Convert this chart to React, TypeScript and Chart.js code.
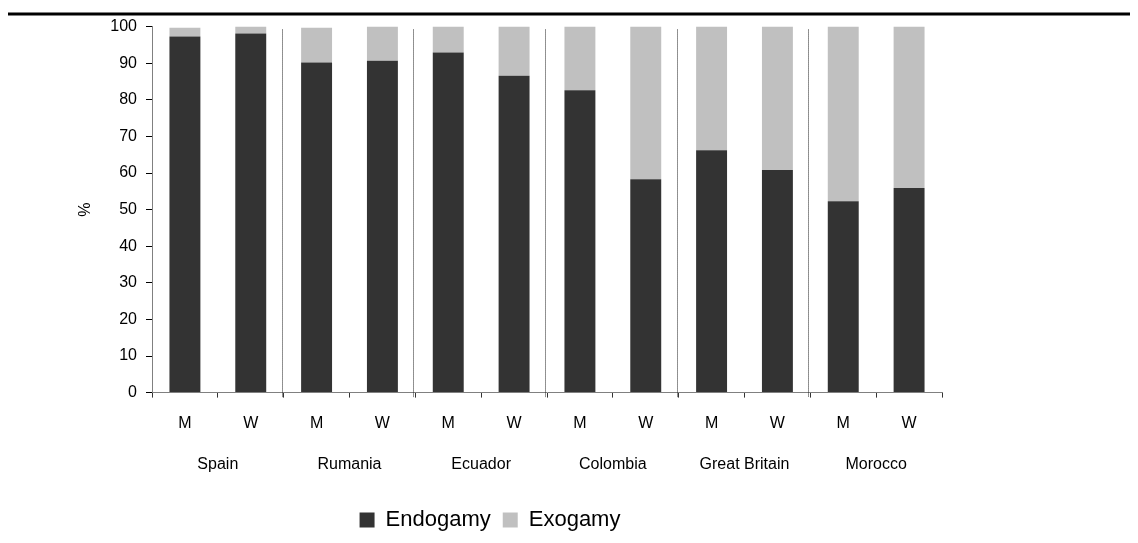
import React, { useEffect, useRef } from "react";
import { Chart, registerables } from "chart.js";

Chart.register(...registerables);

const sexLabels = ["M", "W", "M", "W", "M", "W", "M", "W", "M", "W", "M", "W"];
const countries = ["Spain", "Rumania", "Ecuador", "Colombia", "Great Britain", "Morocco"];
const endogamy = [97.3, 98.1, 90.2, 90.7, 92.9, 86.6, 82.6, 58.3, 66.2, 60.8, 52.3, 55.9];
const exogamy = [2.4, 1.9, 9.5, 9.3, 7.1, 13.4, 17.4, 41.7, 33.8, 39.2, 47.7, 44.1];
const yTicks = [0, 10, 20, 30, 40, 50, 60, 70, 80, 90, 100];

const FONT = "'Liberation Sans', Arial, sans-serif";

const decorPlugin = {
  id: "decor",
  beforeDraw(chart: any) {
    const ctx = chart.ctx;
    ctx.save();
    ctx.strokeStyle = "#000";
    ctx.lineWidth = 3;
    ctx.beginPath();
    ctx.moveTo(0, 6);
    ctx.lineTo(chart.width, 6);
    ctx.stroke();
    ctx.restore();
  },
  afterDatasetsDraw(chart: any) {
    const ctx = chart.ctx;
    const x = chart.scales.x;
    const y = chart.scales.y;
    ctx.save();
    ctx.strokeStyle = "#222";
    ctx.lineWidth = 1;
    ctx.setLineDash([1, 1]);
    for (let i = 2; i < sexLabels.length; i += 2) {
      const px = Math.round((x.getPixelForValue(i - 1) + x.getPixelForValue(i)) / 2) - 1.5;
      ctx.beginPath();
      ctx.moveTo(px, y.getPixelForValue(99.2));
      ctx.lineTo(px, y.bottom + 5);
      ctx.stroke();
    }
    ctx.restore();
  },
};

export default function App() {
  const ref = useRef<HTMLCanvasElement>(null);
  useEffect(() => {
    if (!ref.current) return;
    const chart = new Chart(ref.current, {
      type: "bar",
      data: {
        labels: sexLabels,
        datasets: [
          {
            label: "Endogamy",
            data: endogamy,
            backgroundColor: "#333333",
            borderWidth: 0,
            barPercentage: 0.47,
            categoryPercentage: 1,
          },
          {
            label: "Exogamy",
            data: exogamy,
            backgroundColor: "#c0c0c0",
            borderWidth: 0,
            barPercentage: 0.47,
            categoryPercentage: 1,
          },
        ],
      },
      options: {
        animation: false,
        responsive: true,
        maintainAspectRatio: false,
        layout: { padding: { left: 30, right: 196, top: 18, bottom: 2 } },
        plugins: {
          tooltip: { enabled: false },
          legend: {
            position: "bottom",
            labels: {
              color: "#000",
              font: { family: FONT, size: 22 },
              boxWidth: 15,
              boxHeight: 15,
              padding: 12,
            },
          },
        },
        scales: {
          x: {
            stacked: true,
            grid: {
              display: true,
              drawOnChartArea: false,
              drawTicks: true,
              tickLength: 5,
              color: "#333",
              offset: true,
            },
            border: { display: true, color: "#808080", width: 1 },
            ticks: {
              color: "#000",
              font: { family: FONT, size: 16 },
              padding: 16,
              maxRotation: 0,
              autoSkip: false,
            },
          },
          x2: {
            type: "category",
            labels: countries,
            position: "bottom",
            offset: true,
            grid: { display: false, drawTicks: false, tickLength: 0 },
            border: { display: false },
            afterFit: (scale: any) => {
              scale.height = scale.height + 17;
            },
            ticks: {
              color: "#000",
              font: { family: FONT, size: 16 },
              padding: 6,
              maxRotation: 0,
              autoSkip: false,
            },
          },
          y: {
            stacked: true,
            min: 0,
            max: 100,
            afterBuildTicks: (scale: any) => {
              scale.ticks = yTicks.map((v) => ({ value: v }));
            },
            afterFit: (scale: any) => {
              scale.width = 114;
            },
            grid: {
              display: true,
              drawOnChartArea: false,
              drawTicks: true,
              tickLength: 6,
              color: "#000",
            },
            border: { display: true, color: "#808080", width: 1 },
            ticks: {
              color: "#000",
              font: { family: FONT, size: 16 },
              padding: 9,
            },
            title: {
              display: true,
              text: "%",
              color: "#000",
              font: { family: FONT, size: 16 },
              padding: { top: 38, bottom: 0 },
            },
          },
        },
      },
      plugins: [decorPlugin],
    } as any);
    return () => chart.destroy();
  }, []);
  return (
    <div style={{ position: "relative", width: 1130, height: 535 }}>
      <canvas ref={ref} />
    </div>
  );
}
